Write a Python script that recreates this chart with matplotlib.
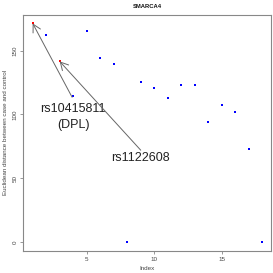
import matplotlib
matplotlib.use("Agg")
import matplotlib.pyplot as plt

plt.rcParams['font.family'] = ['Liberation Sans', 'DejaVu Sans']

# data
index = list(range(1, 19))
distance = [171.4, 162.5, 141.6, 114.2, 165.4, 144.2, 139.5, 0.0, 125.1,
            120.7, 112.6, 123.3, 122.8, 94.0, 107.1, 102.1, 72.9, 0.2]
colors = ['red', 'blue', 'red'] + ['blue'] * 15

# annotations: label text, label position, arrow start, target index
labels = ["rs10415811\n(DPL)", "rs1122608"]
label_pos = [(4, 98), (9, 65.5)]
arrow_start = [(3.92, 113.5), (9.0, 72)]
arrow_target = [1, 3]

fig = plt.figure(figsize=(2.73, 2.73), dpi=100)
ax = fig.add_axes([0.086, 0.0813, 0.9085, 0.8652])

ax.scatter(index, distance, c=colors, marker='s', s=2.3, linewidths=0, zorder=3)

for lab, pos, start, tgt in zip(labels, label_pos, arrow_start, arrow_target):
    ax.annotate('', xy=(tgt, distance[tgt - 1]), xytext=start,
                arrowprops=dict(arrowstyle='->, head_length=0.55, head_width=0.3',
                                color='#666666', lw=0.7, shrinkA=0, shrinkB=0,
                                mutation_scale=10))
    ax.text(pos[0], pos[1], lab, ha='center', va='center', fontsize=9,
            color='#222222', linespacing=1.5)

x_lo, x_hi = 1 - 0.04 * 17, 18 + 0.04 * 17
y_max = max(distance)
ax.set_xlim(x_lo, x_hi)
ax.set_ylim(-0.04 * y_max, y_max * 1.04)
ax.set_xticks([5, 10, 15])
ax.set_yticks([0, 50, 100, 150])
ax.set_yticklabels(['0', '50', '100', '150'], rotation=90, va='center')

for sp in ax.spines.values():
    sp.set_color('#888888')
    sp.set_linewidth(0.8)
ax.tick_params(length=2.2, width=0.6, color='#888888', labelsize=4.5,
               labelcolor='#444444', pad=2)

ax.set_xlabel('Index', fontsize=4.5, color='#444444', labelpad=3)
ax.set_ylabel('Euclidean distance between case and control', fontsize=4.5,
              color='#444444', labelpad=3)
ax.set_title('SMARCA4', fontsize=4.2, fontweight='bold', color='#111111', pad=5)

fig.savefig('out.png', dpi=100)
